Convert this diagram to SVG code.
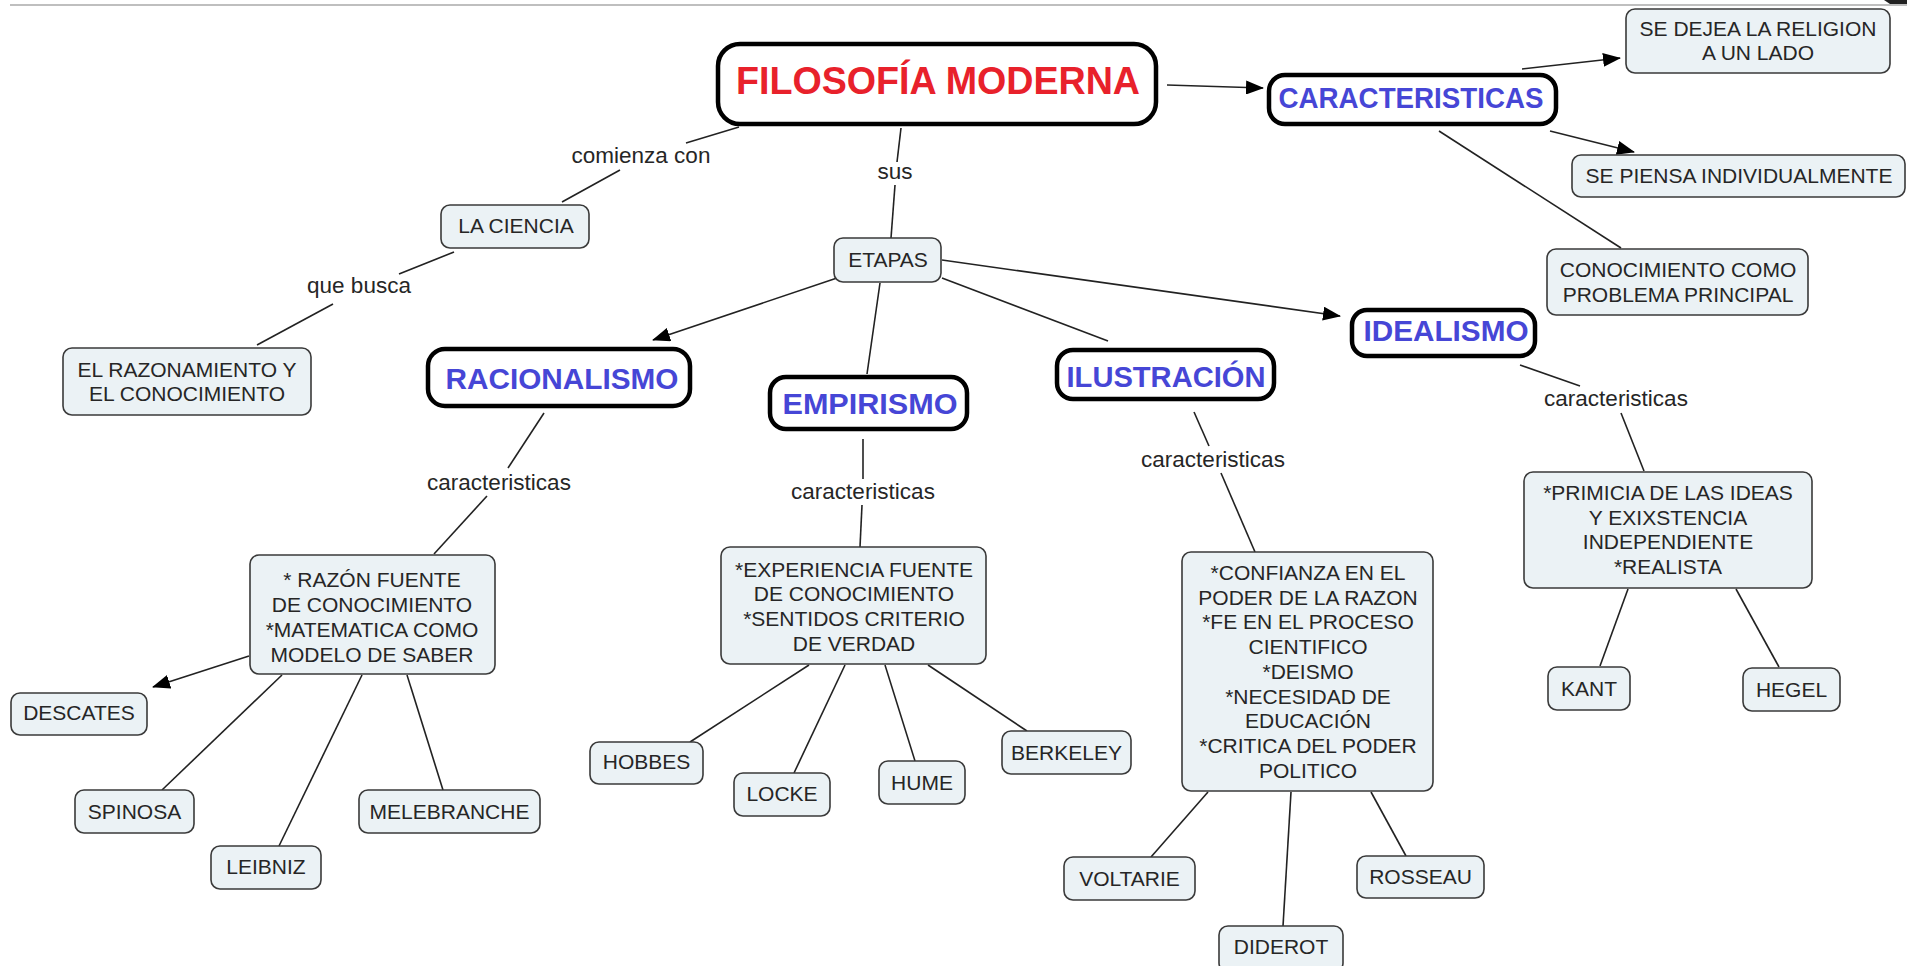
<svg xmlns="http://www.w3.org/2000/svg" width="1907" height="966" viewBox="0 0 1907 966">
<style>
.n rect{fill:#ebf2f5;stroke:#3a3a3a;stroke-width:1.6}
.h rect{fill:#fff;stroke:#000;stroke-width:4.5}
text{font-family:"Liberation Sans",Arial,sans-serif;text-anchor:middle}
.t{font-size:21px;fill:#262626}
.ht{font-size:29px;font-weight:bold;fill:#4646d6}
.lbl{font-size:22.5px;fill:#262626}
.c line{stroke:#222;stroke-width:1.6;fill:none}
</style>
<defs>
<marker id="ah" markerWidth="18" markerHeight="14" refX="17" refY="7" orient="auto" markerUnits="userSpaceOnUse"><path d="M0,0 L18,7 L0,14 z" fill="#000"/></marker>
</defs>
<rect width="1907" height="966" fill="#fff"/>
<line x1="10" y1="5" x2="1907" y2="5" stroke="#aaa" stroke-width="1.5"/>
<path d="M1884,0 L1907,0 L1907,4 L1890,4 z" fill="#222"/>

<g id="connectors" class="c">
<line x1="739" y1="127" x2="686" y2="143"/>
<line x1="620" y1="170" x2="562" y2="202"/>
<line x1="454" y1="252" x2="399" y2="274"/>
<line x1="333" y1="304" x2="257" y2="345"/>
<line x1="901" y1="128" x2="897" y2="162"/>
<line x1="895" y1="185" x2="891" y2="238"/>
<line x1="837" y1="278" x2="653" y2="340" marker-end="url(#ah)"/>
<line x1="880" y1="283" x2="867" y2="374"/>
<line x1="942" y1="278" x2="1108" y2="341"/>
<line x1="942" y1="260" x2="1340" y2="316" marker-end="url(#ah)"/>
<line x1="1167" y1="85" x2="1263" y2="88" marker-end="url(#ah)"/>
<line x1="1522" y1="69" x2="1620" y2="58" marker-end="url(#ah)"/>
<line x1="1550" y1="131" x2="1634" y2="152" marker-end="url(#ah)"/>
<line x1="1439" y1="131" x2="1621" y2="248"/>
<line x1="1520" y1="365" x2="1580" y2="386"/>
<line x1="1621" y1="413" x2="1644" y2="471"/>
<line x1="1628" y1="589" x2="1600" y2="666"/>
<line x1="1736" y1="589" x2="1779" y2="667"/>
<line x1="544" y1="413" x2="508" y2="468"/>
<line x1="487" y1="496" x2="434" y2="554"/>
<line x1="249" y1="656" x2="153" y2="687" marker-end="url(#ah)"/>
<line x1="282" y1="675" x2="162" y2="790"/>
<line x1="362" y1="675" x2="279" y2="846"/>
<line x1="407" y1="675" x2="443" y2="790"/>
<line x1="863" y1="439" x2="863" y2="479"/>
<line x1="862" y1="505" x2="860" y2="547"/>
<line x1="809" y1="665" x2="690" y2="742"/>
<line x1="845" y1="665" x2="794" y2="773"/>
<line x1="885" y1="665" x2="915" y2="761"/>
<line x1="928" y1="665" x2="1027" y2="731"/>
<line x1="1194" y1="412" x2="1209" y2="446"/>
<line x1="1221" y1="473" x2="1255" y2="552"/>
<line x1="1208" y1="792" x2="1151" y2="857"/>
<line x1="1291" y1="792" x2="1283" y2="926"/>
<line x1="1371" y1="792" x2="1406" y2="856"/>
<text class="lbl" x="641" y="163">comienza con</text>
<text class="lbl" x="359" y="293">que busca</text>
<text class="lbl" x="895" y="179">sus</text>
<text class="lbl" x="499" y="490">caracteristicas</text>
<text class="lbl" x="863" y="499">caracteristicas</text>
<text class="lbl" x="1213" y="467">caracteristicas</text>
<text class="lbl" x="1616" y="406">caracteristicas</text>
</g>

<g id="fm" class="h"><rect x="718" y="44" width="438" height="80" rx="22"/><text x="938" y="94" style="font-size:39px;font-weight:bold;fill:#e8212b" textLength="404" lengthAdjust="spacingAndGlyphs">FILOSOFÍA MODERNA</text></g>
<g id="car" class="h"><rect x="1269" y="75" width="287" height="49" rx="16"/><text class="ht" x="1411" y="108" textLength="265" lengthAdjust="spacingAndGlyphs">CARACTERISTICAS</text></g>
<g id="ideal" class="h"><rect x="1352" y="310" width="183" height="46" rx="15"/><text class="ht" x="1446" y="341" textLength="165" lengthAdjust="spacingAndGlyphs">IDEALISMO</text></g>
<g id="rac" class="h"><rect x="428" y="349" width="262" height="57" rx="17"/><text class="ht" x="562" y="389" textLength="233" lengthAdjust="spacingAndGlyphs">RACIONALISMO</text></g>
<g id="emp" class="h"><rect x="770" y="377" width="197" height="52" rx="16"/><text class="ht" x="870" y="414" textLength="175" lengthAdjust="spacingAndGlyphs">EMPIRISMO</text></g>
<g id="ilus" class="h"><rect x="1057" y="350" width="217" height="49" rx="16"/><text class="ht" x="1166" y="387" textLength="199" lengthAdjust="spacingAndGlyphs">ILUSTRACIÓN</text></g>

<g id="dejea" class="n"><rect x="1626" y="9" width="264" height="64" rx="9"/><text class="t" x="1758" y="36">SE DEJEA LA RELIGION</text><text class="t" x="1758" y="60">A UN LADO</text></g>
<g id="piensa" class="n"><rect x="1572" y="155" width="333" height="42" rx="9"/><text class="t" x="1739" y="183">SE PIENSA INDIVIDUALMENTE</text></g>
<g id="conoc" class="n"><rect x="1547" y="249" width="261" height="66" rx="9"/><text class="t" x="1678" y="277">CONOCIMIENTO COMO</text><text class="t" x="1678" y="302">PROBLEMA PRINCIPAL</text></g>
<g id="ciencia" class="n"><rect x="441" y="205" width="148" height="43" rx="9"/><text class="t" x="516" y="233">LA CIENCIA</text></g>
<g id="razon" class="n"><rect x="63" y="348" width="248" height="67" rx="9"/><text class="t" x="187" y="377">EL RAZONAMIENTO Y</text><text class="t" x="187" y="401">EL CONOCIMIENTO</text></g>
<g id="etapas" class="n"><rect x="834" y="238" width="107" height="44" rx="9"/><text class="t" x="888" y="267">ETAPAS</text></g>
<g id="racbox" class="n"><rect x="250" y="555" width="245" height="119" rx="9"/><text class="t" x="372" y="587">* RAZÓN FUENTE</text><text class="t" x="372" y="612">DE CONOCIMIENTO</text><text class="t" x="372" y="637">*MATEMATICA COMO</text><text class="t" x="372" y="662">MODELO DE SABER</text></g>
<g id="empbox" class="n"><rect x="721" y="547" width="265" height="117" rx="9"/><text class="t" x="854" y="577">*EXPERIENCIA FUENTE</text><text class="t" x="854" y="601">DE CONOCIMIENTO</text><text class="t" x="854" y="626">*SENTIDOS CRITERIO</text><text class="t" x="854" y="651">DE VERDAD</text></g>
<g id="ilusbox" class="n"><rect x="1182" y="552" width="251" height="239" rx="9"/><text class="t" x="1308" y="580">*CONFIANZA EN EL</text><text class="t" x="1308" y="605">PODER DE LA RAZON</text><text class="t" x="1308" y="629">*FE EN EL PROCESO</text><text class="t" x="1308" y="654">CIENTIFICO</text><text class="t" x="1308" y="679">*DEISMO</text><text class="t" x="1308" y="704">*NECESIDAD DE</text><text class="t" x="1308" y="728">EDUCACIÓN</text><text class="t" x="1308" y="753">*CRITICA DEL PODER</text><text class="t" x="1308" y="778">POLITICO</text></g>
<g id="idealbox" class="n"><rect x="1524" y="472" width="288" height="116" rx="9"/><text class="t" x="1668" y="500">*PRIMICIA DE LAS IDEAS</text><text class="t" x="1668" y="525">Y EXIXSTENCIA</text><text class="t" x="1668" y="549">INDEPENDIENTE</text><text class="t" x="1668" y="574">*REALISTA</text></g>
<g id="descates" class="n"><rect x="11" y="693" width="136" height="42" rx="9"/><text class="t" x="79" y="720">DESCATES</text></g>
<g id="spinosa" class="n"><rect x="75" y="790" width="119" height="43" rx="9"/><text class="t" x="134.5" y="819">SPINOSA</text></g>
<g id="leibniz" class="n"><rect x="211" y="846" width="110" height="43" rx="9"/><text class="t" x="266" y="874">LEIBNIZ</text></g>
<g id="melebranche" class="n"><rect x="359" y="790" width="181" height="43" rx="9"/><text class="t" x="449.5" y="819">MELEBRANCHE</text></g>
<g id="hobbes" class="n"><rect x="590" y="742" width="113" height="42" rx="9"/><text class="t" x="646.5" y="769">HOBBES</text></g>
<g id="locke" class="n"><rect x="734" y="773" width="96" height="43" rx="9"/><text class="t" x="782" y="801">LOCKE</text></g>
<g id="hume" class="n"><rect x="879" y="761" width="86" height="43" rx="9"/><text class="t" x="922" y="790">HUME</text></g>
<g id="berkeley" class="n"><rect x="1002" y="731" width="129" height="43" rx="9"/><text class="t" x="1066.5" y="760">BERKELEY</text></g>
<g id="voltarie" class="n"><rect x="1064" y="857" width="131" height="43" rx="9"/><text class="t" x="1129.5" y="886">VOLTARIE</text></g>
<g id="diderot" class="n"><rect x="1219" y="926" width="124" height="46" rx="9"/><text class="t" x="1281" y="954">DIDEROT</text></g>
<g id="rosseau" class="n"><rect x="1357" y="856" width="127" height="42" rx="9"/><text class="t" x="1420.5" y="884">ROSSEAU</text></g>
<g id="kant" class="n"><rect x="1548" y="667" width="82" height="43" rx="9"/><text class="t" x="1589" y="696">KANT</text></g>
<g id="hegel" class="n"><rect x="1743" y="668" width="97" height="43" rx="9"/><text class="t" x="1791.5" y="697">HEGEL</text></g>
</svg>
